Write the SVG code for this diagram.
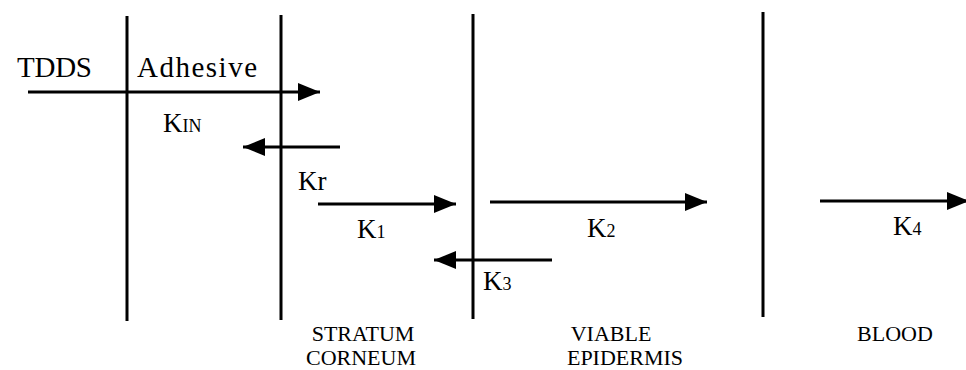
<svg xmlns="http://www.w3.org/2000/svg" width="966" height="370" viewBox="0 0 966 370">
<defs>
<style>
.bar{stroke:#000;stroke-width:3;fill:none}
.arr{stroke:#000;stroke-width:3;fill:none;marker-end:url(#ah)}
.big{font-size:29px}
.k{font-size:27px}
.sub{font-size:18px}
.lab{font-size:22px;text-anchor:middle}
</style>
<marker id="ah" markerUnits="userSpaceOnUse" markerWidth="24" markerHeight="20" refX="22" refY="9" orient="auto">
<path d="M0,0 L22,9 L0,18 z" fill="#000"/>
</marker>
</defs>
<rect width="966" height="370" fill="#fff"/>
<g id="boundaries">
<line class="bar" x1="127" y1="16" x2="127" y2="321"/>
<line class="bar" x1="281" y1="15" x2="281" y2="320"/>
<line class="bar" x1="473" y1="14" x2="473" y2="319"/>
<line class="bar" x1="763" y1="12" x2="763" y2="317"/>
</g>
<g id="connectors">
<line class="arr" x1="28" y1="92" x2="320" y2="92"/>
<line class="arr" x1="340" y1="147" x2="243" y2="147"/>
<line class="arr" x1="318" y1="204" x2="456" y2="204"/>
<line class="arr" x1="490" y1="202" x2="707" y2="202"/>
<line class="arr" x1="820" y1="201" x2="969" y2="201"/>
<line class="arr" x1="552" y1="260" x2="434" y2="260"/>
</g>
<g font-family="'Liberation Serif', 'DejaVu Serif', serif" fill="#000">
<g id="tdds"><text class="big" x="17" y="77" textLength="75">TDDS</text></g>
<g id="adhesive"><text class="big" x="137" y="77" textLength="120">Adhesive</text></g>
<g id="kin"><text class="k" x="163" y="132">K<tspan class="sub">IN</tspan></text></g>
<g id="kr"><text class="k" x="298" y="190">Kr</text></g>
<g id="k1"><text class="k" x="357" y="238">K<tspan class="sub">1</tspan></text></g>
<g id="k2"><text class="k" x="587" y="237">K<tspan class="sub">2</tspan></text></g>
<g id="k3"><text class="k" x="483" y="290">K<tspan class="sub">3</tspan></text></g>
<g id="k4"><text class="k" x="893" y="235">K<tspan class="sub">4</tspan></text></g>
<g id="stratum"><text class="lab" x="363" y="341">STRATUM</text><text class="lab" x="361" y="365">CORNEUM</text></g>
<g id="viable"><text class="lab" x="611" y="341">VIABLE</text><text class="lab" x="625" y="365">EPIDERMIS</text></g>
<g id="blood"><text class="lab" x="895" y="341">BLOOD</text></g>
</g>
</svg>
